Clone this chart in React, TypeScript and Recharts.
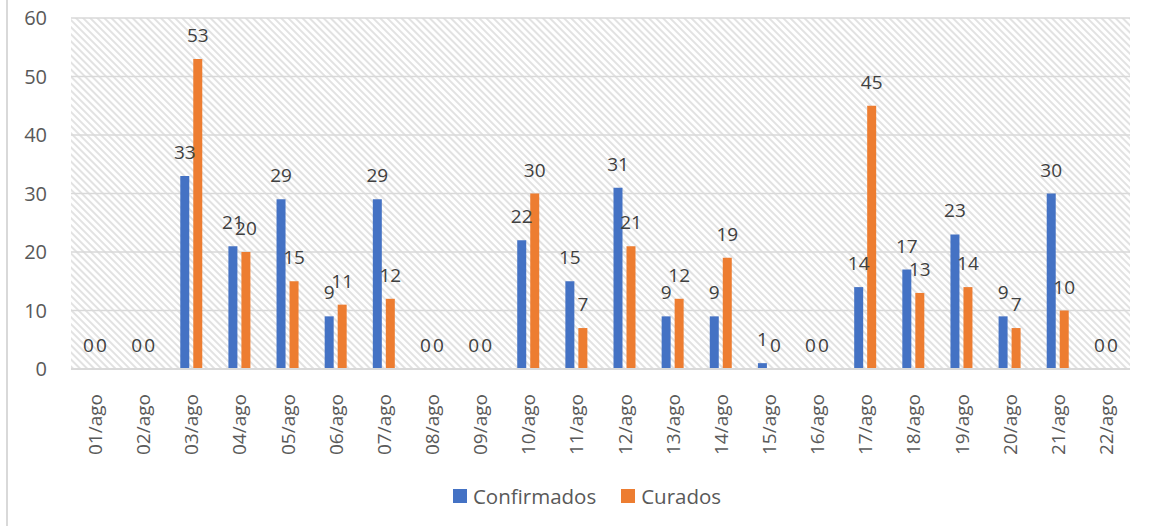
import React from 'react';
import { BarChart, Bar, XAxis, YAxis, CartesianGrid, Legend, LabelList } from 'recharts';

const categories = ['01/ago','02/ago','03/ago','04/ago','05/ago','06/ago','07/ago','08/ago','09/ago','10/ago','11/ago','12/ago','13/ago','14/ago','15/ago','16/ago','17/ago','18/ago','19/ago','20/ago','21/ago','22/ago'];
const confirmados = [0,0,33,21,29,9,29,0,0,22,15,31,9,9,1,0,14,17,23,9,30,0];
const curados = [0,0,53,20,15,11,12,0,0,30,7,21,12,19,0,0,45,13,14,7,10,0];
const yTicks = [0,10,20,30,40,50,60];

const data = categories.map((c, i) => ({ name: c, Confirmados: confirmados[i], Curados: curados[i] }));

const FONT = 'Open Sans, Lato, sans-serif';

const XTick = (props: any) => {
  const { x, y, payload } = props;
  return (
    <text x={x} y={y} transform={`rotate(-90, ${x}, ${y})`} textAnchor="end" dominantBaseline="central" fill="#595959" fontSize={19} fontFamily={FONT}>
      {payload.value}
    </text>
  );
};

const renderLabel = (props: any) => {
  const { x, y, width, value } = props;
  return (
    <text x={x + width / 2} y={y - 17} textAnchor="middle" fill="#404040" fontSize={19} fontFamily={FONT}>
      {value}
    </text>
  );
};

const LegendContent = () => (
  <div style={{ display: 'flex', justifyContent: 'center', alignItems: 'center', fontFamily: FONT, fontSize: 20.5, color: '#595959', paddingLeft: 44 }}>
    <span style={{ display: 'inline-block', width: 14, height: 14, background: '#4472C4', marginRight: 6 }} />
    <span style={{ marginRight: 25 }}>Confirmados</span>
    <span style={{ display: 'inline-block', width: 14, height: 14, background: '#ED7D31', marginRight: 6 }} />
    <span>Curados</span>
  </div>
);

export default function App() {
  return (
    <div style={{ position: 'absolute', left: 0, top: 0, width: 1153, height: 526, background: '#fff' }}>
      <div style={{ position: 'absolute', left: 6, top: 0, width: 2, height: 526, background: '#d9d9d9' }} />
      <BarChart width={1153} height={526} data={data} margin={{ top: 18, right: 23, left: 0, bottom: 16 }} barGap={4} barCategoryGap={15}>
        <defs>
          <pattern id="hatch" width="5" height="5" patternUnits="userSpaceOnUse" patternTransform="rotate(-45)">
            <rect x="0" y="0" width="2" height="5" fill="#e2e2e2" />
          </pattern>
        </defs>
        <CartesianGrid vertical={false} stroke="#d9d9d9" strokeWidth={1.5} fill="url(#hatch)" fillOpacity={1} />
        <XAxis dataKey="name" interval={0} height={113} tick={<XTick />} tickLine={false} axisLine={{ stroke: '#d9d9d9', strokeWidth: 2 }} tickMargin={19} />
        <YAxis width={71} domain={[0, 60]} ticks={yTicks} tickLine={false} axisLine={false} tickSize={0} tickMargin={24} tick={{ fill: '#595959', fontSize: 20, fontFamily: FONT }} />
        <Legend verticalAlign="bottom" content={<LegendContent />} />
        <Bar dataKey="Confirmados" fill="#4472C4" barSize={9} minPointSize={0.01} isAnimationActive={false}>
          <LabelList dataKey="Confirmados" content={renderLabel} />
        </Bar>
        <Bar dataKey="Curados" fill="#ED7D31" barSize={9} minPointSize={0.01} isAnimationActive={false}>
          <LabelList dataKey="Curados" content={renderLabel} />
        </Bar>
      </BarChart>
    </div>
  );
}
